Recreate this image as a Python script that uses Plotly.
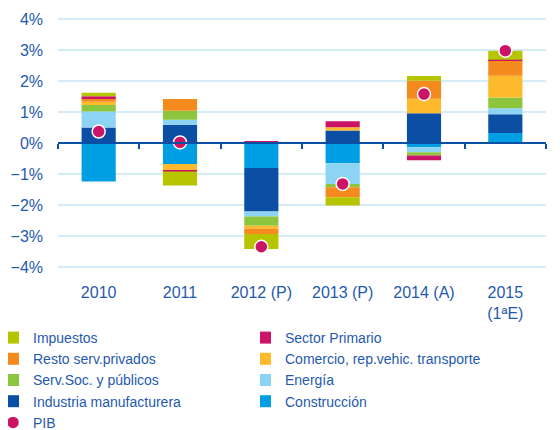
import plotly.graph_objects as go

categories = ["2010", "2011", "2012 (P)", "2013 (P)", "2014 (A)", "2015<br>(1ªE)"]

# Contributions to growth (percentage points), stacking order bottom-up
construccion = [-1.24, -0.68, -0.81, -0.65, -0.14, 0.32]
industria = [0.50, 0.59, -1.40, 0.40, 0.96, 0.61]
energia = [0.52, 0.16, -0.16, -0.67, -0.16, 0.19]
serv_soc = [0.21, 0.29, -0.30, -0.11, -0.10, 0.35]
comercio = [0.10, -0.20, -0.10, 0.11, 0.47, 0.70]
resto = [0.12, 0.38, -0.17, -0.32, 0.58, 0.50]
sector_primario = [0.06, -0.04, 0.04, 0.19, -0.16, 0.02]
impuestos = [0.11, -0.45, -0.48, -0.27, 0.15, 0.29]
pib = [0.37, 0.02, -3.35, -1.32, 1.58, 2.98]

# name, values, colour, legend, rank
series = [
    ("Construcción", construccion, "#009fe3", "legend2", 4),
    ("Industria manufacturera", industria, "#0b4fa5", "legend", 4),
    ("Energía", energia, "#8dd3f4", "legend2", 3),
    ("Serv.Soc. y públicos", serv_soc, "#8cc63f", "legend", 3),
    ("Comercio, rep.vehic. transporte", comercio, "#fdba2c", "legend2", 2),
    ("Resto serv.privados", resto, "#f58a1f", "legend", 2),
    ("Sector Primario", sector_primario, "#cc1466", "legend2", 1),
    ("Impuestos", impuestos, "#b7c400", "legend", 1),
]

TEXT = "#1f5aae"
FONT = "Liberation Sans, Arial, sans-serif"
W, H = 552, 422  # page body adds an 8px margin

fig = go.Figure()
for name, vals, color, leg, rank in series:
    fig.add_trace(go.Bar(
        x=categories, y=vals, name=name, marker_color=color,
        marker_line_width=0, legend=leg, legendrank=rank,
    ))

fig.add_trace(go.Scatter(
    x=categories, y=pib, name="PIB", mode="markers", xaxis="x2", yaxis="y",
    marker=dict(color="#cc1466", size=13, line=dict(color="white", width=1.5)),
    legend="legend", legendrank=5,
))

leg_common = dict(
    orientation="v", xref="container", yref="container",
    xanchor="left", yanchor="top", indentation=-15,
    font=dict(size=14, color=TEXT, family=FONT),
    tracegroupgap=0, itemwidth=30, bgcolor="rgba(0,0,0,0)",
)

fig.update_layout(
    width=W, height=H,
    margin=dict(l=50, r=14, t=8, b=160, autoexpand=False),
    paper_bgcolor="white", plot_bgcolor="white",
    barmode="relative", bargap=0.58,
    font=dict(family=FONT, size=16, color=TEXT),
    showlegend=True,
    xaxis=dict(
        type="category", showgrid=False, showline=False, zeroline=False,
        ticks="", tickfont=dict(size=16, color=TEXT), ticklabelstandoff=11,
    ),
    xaxis2=dict(
        type="category", overlaying="x", matches="x", anchor="free", position=0.5,
        showline=True, linecolor="#0b4fa5", linewidth=2,
        ticks="outside", tickson="boundaries", ticklen=5, tickwidth=2, tickcolor="#0b4fa5",
        showticklabels=False, showgrid=False, zeroline=False,
    ),
    yaxis=dict(
        range=[-4.1, 4.1], dtick=1, ticksuffix="%", showgrid=True,
        gridcolor="#d4edf9", gridwidth=2, zeroline=False, showline=False,
        tickfont=dict(size=16, color=TEXT), ticklabelstandoff=14,
    ),
    legend=dict(leg_common, x=0.0, y=1 - 314 / H),
    legend2=dict(leg_common, x=252 / W, y=1 - 314 / H),
)

fig.write_html("out.html")
